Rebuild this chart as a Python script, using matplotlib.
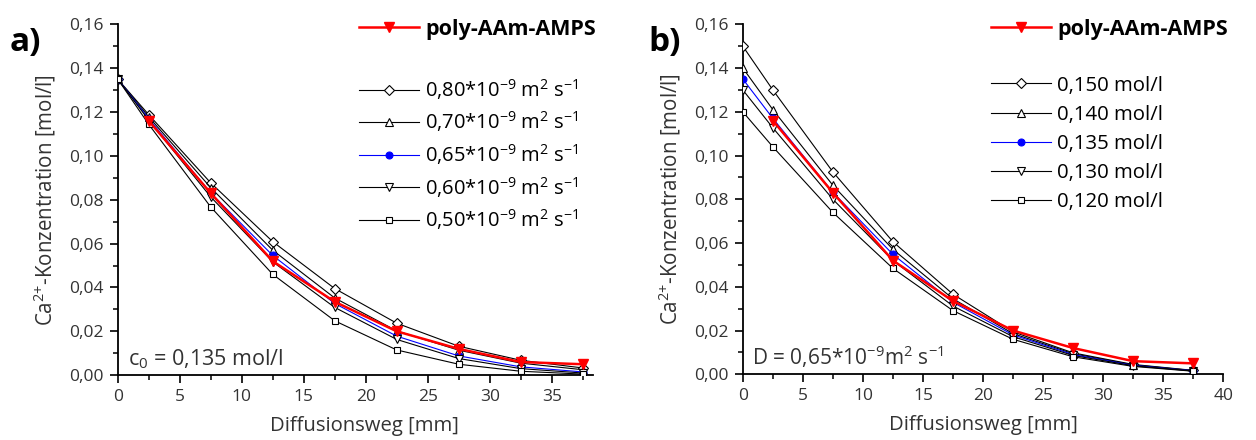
import matplotlib
matplotlib.use("Agg")
import matplotlib.pyplot as plt
from matplotlib.ticker import MultipleLocator, FuncFormatter

plt.rcParams['font.family'] = ['Open Sans', 'DejaVu Sans']
plt.rcParams['mathtext.fontset'] = 'custom'
plt.rcParams['mathtext.rm'] = 'Open Sans'
plt.rcParams['mathtext.it'] = 'Open Sans'
plt.rcParams['mathtext.bf'] = 'Open Sans:bold'

# ---------------- data ----------------
x = [0, 2.5, 7.5, 12.5, 17.5, 22.5, 27.5, 32.5, 37.5]
x_exp = [2.5, 7.5, 12.5, 17.5, 22.5, 27.5, 32.5, 37.5]
poly_exp = [0.116, 0.083, 0.052, 0.0335, 0.020, 0.012, 0.006, 0.005]

# panel a: different diffusion coefficients, c0 = 0.135 mol/l
a_labels = [r"0,80*10$^{-9}$ m$^{2}$ s$^{-1}$", r"0,70*10$^{-9}$ m$^{2}$ s$^{-1}$",
            r"0,65*10$^{-9}$ m$^{2}$ s$^{-1}$", r"0,60*10$^{-9}$ m$^{2}$ s$^{-1}$",
            r"0,50*10$^{-9}$ m$^{2}$ s$^{-1}$"]
a_080 = [0.135, 0.1188, 0.0877, 0.0609, 0.0395, 0.0237, 0.0132, 0.0068, 0.0033]
a_070 = [0.135, 0.1178, 0.0855, 0.0570, 0.0352, 0.0202, 0.0114, 0.0055, 0.0025]
a_065 = [0.135, 0.1170, 0.0831, 0.0546, 0.0327, 0.0178, 0.0088, 0.0038, 0.0015]
a_060 = [0.135, 0.1163, 0.0813, 0.0517, 0.0309, 0.0163, 0.0076, 0.0030, 0.0010]
a_050 = [0.135, 0.1144, 0.0767, 0.0460, 0.0248, 0.0115, 0.0050, 0.0018, 0.0005]

# panel b: different start concentrations, D = 0.65e-9 m2/s
b_labels = ["0,150 mol/l", "0,140 mol/l", "0,135 mol/l", "0,130 mol/l", "0,120 mol/l"]
b_150 = [0.150, 0.1300, 0.0925, 0.0606, 0.0366, 0.0194, 0.0098, 0.0045, 0.0018]
b_140 = [0.140, 0.1210, 0.0864, 0.0571, 0.0345, 0.0186, 0.0094, 0.0043, 0.0017]
b_135 = [0.135, 0.1170, 0.0832, 0.0548, 0.0329, 0.0180, 0.0090, 0.0041, 0.0016]
b_130 = [0.130, 0.1127, 0.0800, 0.0520, 0.0312, 0.0172, 0.0086, 0.0039, 0.0015]
b_120 = [0.120, 0.1040, 0.0740, 0.0484, 0.0291, 0.0160, 0.0080, 0.0036, 0.0014]

y_ticks = [0.00, 0.02, 0.04, 0.06, 0.08, 0.10, 0.12, 0.14, 0.16]

# ---------------- styling ----------------
styles = [
    dict(color='black', marker='D', markersize=5.5, mfc='white', mec='black', lw=0.8, mew=0.8),
    dict(color='black', marker='^', markersize=6, mfc='white', mec='black', lw=0.8, mew=0.8),
    dict(color='blue', marker='o', markersize=5, mfc='blue', mec='blue', lw=0.8, mew=0.8),
    dict(color='black', marker='v', markersize=6, mfc='white', mec='black', lw=0.8, mew=0.8),
    dict(color='black', marker='s', markersize=4.5, mfc='white', mec='black', lw=0.8, mew=0.8),
]
red_style = dict(color='red', marker='v', markersize=7.5, mfc='red', mec='red', lw=1.8)

fig = plt.figure(figsize=(12.56, 4.40), dpi=100)
W, H = 1256.0, 440.0

def px_axes(l, r, t, b):
    return fig.add_axes([l / W, 1 - b / H, (r - l) / W, (b - t) / H])

ax_a = px_axes(117.7, 592.7, 24.3, 375.2)
ax_b = px_axes(742.8, 1223.3, 24.3, 374.3)

comma = FuncFormatter(lambda v, p: f"{v:.2f}".replace('.', ','))
intfmt = FuncFormatter(lambda v, p: f"{v:.0f}")

def setup(ax, xmax, xlab_x):
    ax.set_xlim(0, xmax)
    ax.set_ylim(0, 0.16)
    ax.spines['top'].set_visible(False)
    ax.spines['right'].set_visible(False)
    ax.spines['left'].set_linewidth(1.3)
    ax.spines['bottom'].set_linewidth(1.3)
    ax.xaxis.set_major_locator(MultipleLocator(5))
    ax.xaxis.set_minor_locator(MultipleLocator(2.5))
    ax.set_yticks(y_ticks)
    ax.yaxis.set_minor_locator(MultipleLocator(0.01))
    ax.yaxis.set_major_formatter(comma)
    ax.xaxis.set_major_formatter(intfmt)
    ax.tick_params(which='major', direction='out', length=6, width=1.2,
                   labelsize=12.5, colors='black', labelcolor='#333333', pad=4)
    ax.tick_params(which='minor', direction='out', length=3.5, width=1.1)
    ax.set_xlabel("Diffusionsweg [mm]", fontsize=14.6, color='#333333', labelpad=10)
    ax.xaxis.set_label_coords(xlab_x, -0.115)
    ax.set_ylabel(r"Ca$^{2{+}}$-Konzentration [mol/l]", fontsize=14.8,
                  color='#333333', labelpad=8)

setup(ax_a, 38.3, 0.52)
setup(ax_b, 40, 0.5)

# panel a
a_series = [a_080, a_070, a_065, a_060, a_050]
a_handles = []
for ys, lab, st in zip(a_series, a_labels, styles):
    h, = ax_a.plot(x, ys, label=lab, zorder=3, **st)
    a_handles.append(h)
hr_a, = ax_a.plot(x_exp, poly_exp, label="poly-AAm-AMPS", zorder=4, **red_style)

# panel b
b_series = [b_150, b_140, b_135, b_130, b_120]
b_handles = []
for ys, lab, st in zip(b_series, b_labels, styles):
    h, = ax_b.plot(x, ys, label=lab, zorder=3, **st)
    b_handles.append(h)
hr_b, = ax_b.plot(x_exp, poly_exp, label="poly-AAm-AMPS", zorder=4, **red_style)

def legends(ax, red, handles, labels, x0, ytop_red, ytop_rest, fs, spacing):
    rfs = 15.5
    l1 = ax.legend([red], ["poly-AAm-AMPS"], loc='upper left',
                   bbox_to_anchor=(x0 / W, 1 - ytop_red / H), bbox_transform=fig.transFigure,
                   frameon=False, borderpad=0, borderaxespad=0,
                   handlelength=60 / (rfs * 100 / 72), handletextpad=0.3,
                   prop=dict(family='Open Sans', weight='bold', size=rfs))
    ax.add_artist(l1)
    ax.legend(handles, labels, loc='upper left',
              bbox_to_anchor=(x0 / W, 1 - ytop_rest / H), bbox_transform=fig.transFigure,
              frameon=False, borderpad=0, borderaxespad=0, handlelength=60 / (fs * 100 / 72),
              handletextpad=0.3, labelspacing=spacing, prop=dict(family='Open Sans', size=fs))

legends(ax_a, hr_a, a_handles, a_labels, 359, 19, 77, 14.5, 0.38)
legends(ax_b, hr_b, b_handles, b_labels, 991, 19, 75.5, 14.7, 0.45)

ax_a.text(128 / W, 1 - 365 / H, r"c$_{0}$ = 0,135 mol/l", transform=fig.transFigure,
          fontsize=15.5, color='#333333', ha='left', va='baseline')
ax_b.text(752 / W, 1 - 365 / H, r"D = 0,65*10$^{-9}$m$^{2}$ s$^{-1}$", transform=fig.transFigure,
          fontsize=15, color='#333333', ha='left', va='baseline')

fig.text(10 / W, 1 - 42 / H, "a)", fontsize=24, fontweight='bold', ha='left', va='center')
fig.text(648 / W, 1 - 42 / H, "b)", fontsize=24, fontweight='bold', ha='left', va='center')

fig.savefig("out.png", dpi=100)
